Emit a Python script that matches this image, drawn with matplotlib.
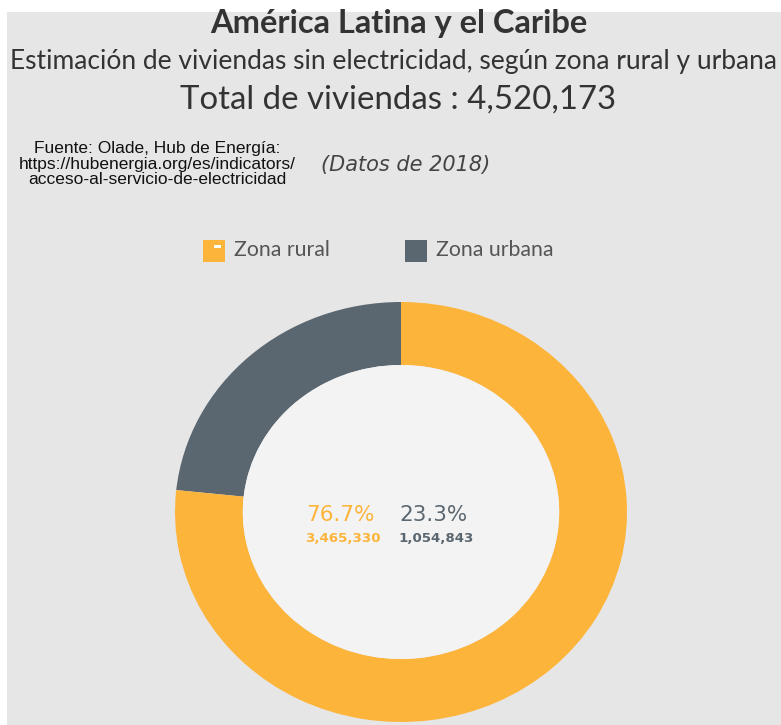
import matplotlib
matplotlib.use("Agg")
import matplotlib.pyplot as plt
from matplotlib.patches import Rectangle, Circle

# viviendas sin electricidad, 2018
zonas = ["Zona rural", "Zona urbana"]
viviendas = [3465330, 1054843]
colores = ["#fdb43b", "#5b6770"]

total = sum(viviendas)
porcentajes = [v / total * 100 for v in viviendas]

W, H = 781, 725
fig = plt.figure(figsize=(W / 100, H / 100), dpi=100, facecolor="white")

def fx(px):
    return px / W

def fy(py):
    return 1 - py / H

# fondo gris
fig.patches.append(Rectangle((fx(7), 0), 1 - fx(7), fy(12), transform=fig.transFigure,
                             facecolor="#e6e6e6", edgecolor="none", zorder=-5))

fuente = "Lato"
fig.text(fx(399), fy(23), "América Latina y el Caribe", ha="center", va="center",
         fontsize=23.5, fontweight="bold", color="#333333", family=fuente)
fig.text(fx(393), fy(62), "Estimación de viviendas sin electricidad, según zona rural y urbana",
         ha="center", va="center", fontsize=19, color="#333333", family=fuente)
fig.text(fx(398), fy(100), f"Total de viviendas : {total:,}", ha="center", va="center",
         fontsize=23.8, color="#333333", family=fuente)

fig.text(fx(157), fy(164), "Fuente: Olade, Hub de Energía:\nhttps://hubenergia.org/es/indicators/\nacceso-al-servicio-de-electricidad",
         ha="center", va="center", fontsize=12.5, color="#111111", family="Liberation Sans",
         linespacing=1.0)
fig.text(fx(406), fy(165), "(Datos de 2018)", ha="center", va="center", fontsize=15,
         style="italic", color="#444444", family="DejaVu Sans")

# leyenda
leg_x = [203, 405]
for i, (z, c) in enumerate(zip(zonas, colores)):
    x0 = leg_x[i]
    fig.patches.append(Rectangle((fx(x0), fy(262)), fx(22), 22 / H, transform=fig.transFigure,
                                 facecolor=c, edgecolor="none"))
    fig.text(fx(x0 + 31), fy(250), z, ha="left", va="center", fontsize=15.3,
             color="#555555", family=fuente)
# marca blanca en el cuadro rural
fig.patches.append(Rectangle((fx(214), fy(248)), fx(7), 3 / H, transform=fig.transFigure,
                             facecolor="white", edgecolor="none"))

# dona
cx, cy, rx, ry = 401, 512, 226, 210
ax = fig.add_axes([fx(cx - rx), fy(cy + ry), 2 * rx / W, 2 * ry / H])
ax.pie(viviendas[::-1], colors=colores[::-1], startangle=90, counterclock=True,
       radius=1, wedgeprops=dict(width=0.3, edgecolor="none"))
ax.set_aspect("auto")
ax.set_xlim(-1, 1)
ax.set_ylim(-1, 1)
ax.axis("off")
ax.add_patch(Circle((0, 0), 0.7, facecolor="#f3f3f3", edgecolor="none", zorder=3))

# etiquetas centrales
for i, x0 in enumerate([340, 433]):
    fig.text(fx(x0), fy(515), f"{porcentajes[i]:.1f}%", ha="center", va="center",
             fontsize=15.5, color=colores[i], family="DejaVu Sans")
    fig.text(fx(x0 + 3), fy(539), f"{viviendas[i]:,}", ha="center", va="center",
             fontsize=9.6, fontweight="bold", color=colores[i], family="DejaVu Sans")

fig.savefig("out.png", dpi=100, facecolor=fig.get_facecolor())
